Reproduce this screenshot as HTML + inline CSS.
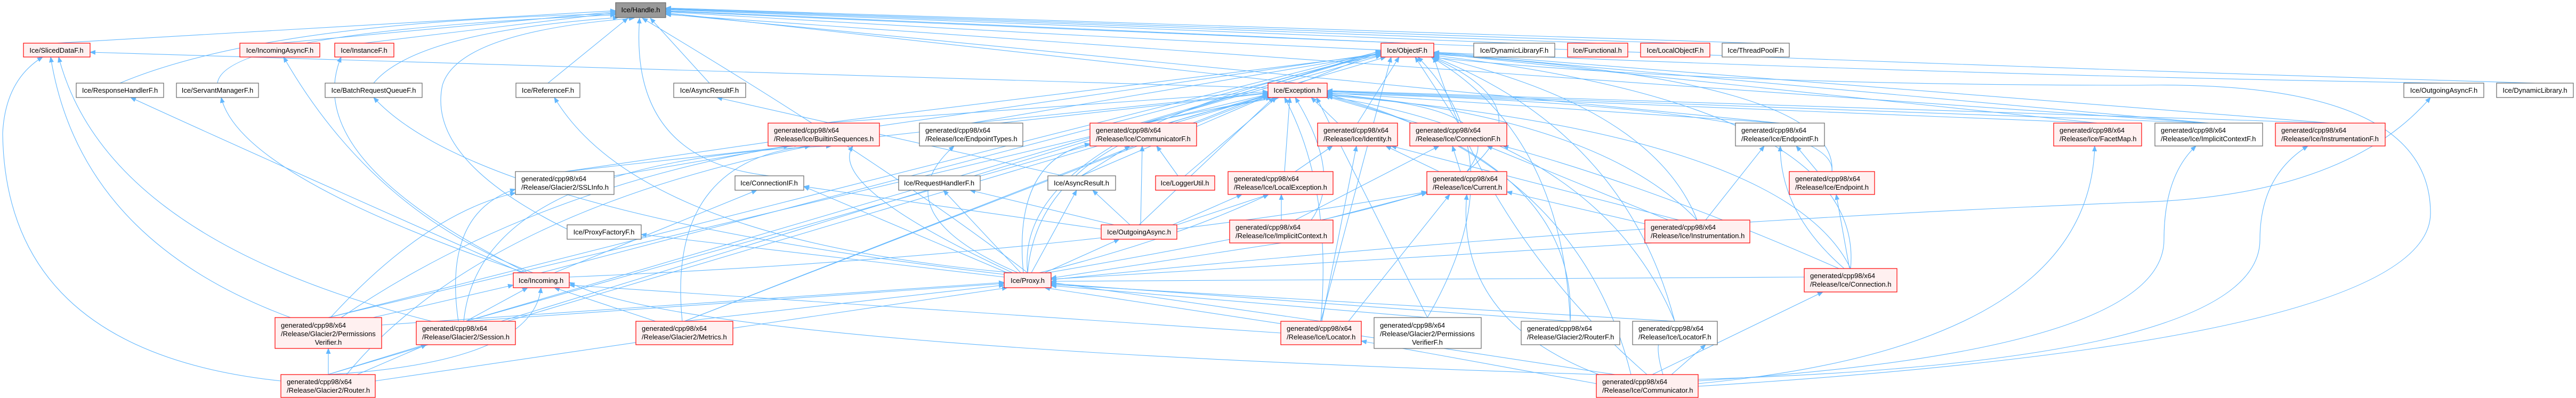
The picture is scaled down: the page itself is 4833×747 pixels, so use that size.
<!DOCTYPE html>
<html><head><meta charset="utf-8"><style>
html,body{margin:0;padding:0;background:#fff;}
svg{display:block;}
text{font-family:"Liberation Sans",sans-serif;font-size:13px;fill:#000;}
.r{fill:#fff0f0;stroke:#ff0000;stroke-width:1.2;}
.g{fill:#fff;stroke:#666;stroke-width:1.2;}
.e{stroke:#63b8ff;stroke-width:1.1;fill:none;marker-end:url(#a);}
</style></head><body>
<svg width="4833" height="747" viewBox="0 0 4833 747" xmlns="http://www.w3.org/2000/svg">
<defs><marker id="a" markerWidth="11" markerHeight="9" refX="10" refY="4.5" orient="auto" markerUnits="userSpaceOnUse"><path d="M0,0 L11,4.5 L0,9 z" fill="#63b8ff"/></marker></defs>
<g>
<!-- to Handle -->
<line class="e" x1="106" y1="81" x2="1155" y2="20"/>
<line class="e" x1="525" y1="81" x2="1155" y2="22"/>
<line class="e" x1="683" y1="81" x2="1155" y2="24"/>
<path class="e" d="M225,156 Q500,40 1155,26"/>
<path class="e" d="M408,156 Q420,60 1155,28"/>
<path class="e" d="M701,156 Q780,60 1160,33"/>
<line class="e" x1="1028" y1="156" x2="1178" y2="34"/>
<line class="e" x1="1331" y1="156" x2="1220" y2="34"/>
<path class="e" d="M1443,330 Q1180,300 1200,34"/>
<path class="e" d="M1064,430 Q800,300 830,160 Q860,60 1190,34"/>
<path class="e" d="M1928,512 Q1650,300 1205,34"/>
<line class="e" x1="2434" y1="156" x2="1249" y2="24"/>
<line class="e" x1="2640" y1="81" x2="1249" y2="20"/>
<line class="e" x1="2841" y1="81" x2="1249" y2="18"/>
<line class="e" x1="2997" y1="81" x2="1249" y2="17"/>
<line class="e" x1="3143" y1="81" x2="1249" y2="16"/>
<line class="e" x1="3294" y1="81" x2="1249" y2="15"/>
<path class="e" d="M4585,156 Q3000,130 1249,22"/>
<path class="e" d="M4756,156 Q3200,110 1249,21"/>
<line class="e" x1="3339" y1="231" x2="1249" y2="26"/>
<line class="e" x1="4144" y1="231" x2="1249" y2="27"/>
<!-- to ObjectF -->
<line class="e" x1="2434" y1="156" x2="2600" y2="107"/>
<line class="e" x1="2547" y1="231" x2="2625" y2="107"/>
<line class="e" x1="2736" y1="231" x2="2655" y2="107"/>
<path class="e" d="M2752,322 Q2900,200 2685,107"/>
<line class="e" x1="1060" y1="322" x2="2591" y2="100"/>
<line class="e" x1="1545" y1="231" x2="2591" y2="102"/>
<line class="e" x1="2145" y1="231" x2="2591" y2="104"/>
<line class="e" x1="1822" y1="231" x2="2591" y2="101"/>
<path class="e" d="M1928,512 Q1900,250 2591,103"/>
<line class="e" x1="1015" y1="512" x2="2591" y2="99"/>
<line class="e" x1="874" y1="603" x2="2591" y2="98"/>
<line class="e" x1="1284" y1="603" x2="2591" y2="97"/>
<line class="e" x1="616" y1="596" x2="2591" y2="96"/>
<line class="e" x1="615" y1="703" x2="2591" y2="95"/>
<line class="e" x1="2478" y1="603" x2="2610" y2="107"/>
<path class="e" d="M3090,703 Q2800,450 2690,107"/>
<path class="e" d="M3472,504 Q3500,200 2690,104"/>
<path class="e" d="M3437,322 Q3450,150 2690,102"/>
<line class="e" x1="3935" y1="231" x2="2690" y2="100"/>
<path class="e" d="M3184,413 Q3100,200 2690,106"/>
<line class="e" x1="4144" y1="231" x2="2690" y2="99"/>
<line class="e" x1="4372" y1="231" x2="2690" y2="98"/>
<path class="e" d="M2946,603 Q2930,250 2685,107"/>
<path class="e" d="M3142,603 Q3050,250 2690,107"/>
<path class="e" d="M2678,596 Q2850,300 2660,107"/>
<!-- to Exception -->
<line class="e" x1="1545" y1="231" x2="2379" y2="172"/>
<line class="e" x1="1822" y1="231" x2="2379" y2="174"/>
<line class="e" x1="2145" y1="231" x2="2385" y2="183"/>
<line class="e" x1="2510" y1="231" x2="2460" y2="183"/>
<line class="e" x1="2660" y1="231" x2="2485" y2="180"/>
<line class="e" x1="2410" y1="322" x2="2420" y2="183"/>
<path class="e" d="M2460,413 Q2520,330 2430,183"/>
<path class="e" d="M2752,322 Q2850,200 2490,178"/>
<path class="e" d="M3184,413 Q3000,220 2490,176"/>
<line class="e" x1="3935" y1="231" x2="2490" y2="172"/>
<line class="e" x1="3339" y1="231" x2="2490" y2="174"/>
<path class="e" d="M3437,322 Q3450,200 2490,175"/>
<line class="e" x1="4144" y1="231" x2="2490" y2="171"/>
<line class="e" x1="4372" y1="231" x2="2490" y2="170"/>
<path class="e" d="M2478,603 Q2500,350 2410,183"/>
<path class="e" d="M3060,703 Q2960,300 2490,177"/>
<path class="e" d="M3472,504 Q3350,250 2490,179"/>
<path class="e" d="M2946,603 Q2960,300 2490,180"/>
<path class="e" d="M3142,603 Q3000,260 2490,181"/>
<line class="e" x1="2678" y1="596" x2="2470" y2="183"/>
<line class="e" x1="1284" y1="603" x2="2379" y2="176"/>
<line class="e" x1="874" y1="603" x2="2379" y2="178"/>
<line class="e" x1="1060" y1="322" x2="2379" y2="175"/>
<line class="e" x1="616" y1="596" x2="2379" y2="177"/>
<line class="e" x1="615" y1="703" x2="2379" y2="179"/>
<line class="e" x1="2223" y1="330" x2="2395" y2="183"/>
<line class="e" x1="2137" y1="422" x2="2390" y2="183"/>
<path class="e" d="M1928,512 Q1950,250 2400,183"/>
<line class="e" x1="2029" y1="330" x2="2379" y2="180"/>
<line class="e" x1="2379" y1="165" x2="169" y2="98"/>
<!-- to Proxy -->
<line class="e" x1="874" y1="603" x2="1884" y2="532"/>
<line class="e" x1="1284" y1="603" x2="1884" y2="535"/>
<line class="e" x1="716" y1="610" x2="1884" y2="530"/>
<line class="e" x1="704" y1="715" x2="1890" y2="540"/>
<line class="e" x1="2478" y1="603" x2="1972" y2="530"/>
<line class="e" x1="3030" y1="703" x2="1960" y2="540"/>
<line class="e" x1="3385" y1="520" x2="1972" y2="528"/>
<line class="e" x1="2946" y1="603" x2="1972" y2="532"/>
<line class="e" x1="3142" y1="603" x2="1972" y2="534"/>
<line class="e" x1="2678" y1="596" x2="1972" y2="536"/>
<line class="e" x1="3100" y1="456" x2="1972" y2="524"/>
<line class="e" x1="2404" y1="456" x2="1972" y2="522"/>
<!-- from Proxy -->
<line class="e" x1="1915" y1="512" x2="1770" y2="357"/>
<line class="e" x1="1935" y1="512" x2="2020" y2="357"/>
<line class="e" x1="1960" y1="512" x2="2100" y2="449"/>
<path class="e" d="M1920,512 Q1900,300 2045,270"/>
<path class="e" d="M1950,512 Q2200,450 2380,365"/>
<line class="e" x1="1884" y1="520" x2="1203" y2="440"/>
<path class="e" d="M1900,512 Q1200,450 1040,183"/>
<path class="e" d="M1965,512 Q2500,420 2677,360"/>
<path class="e" d="M1884,515 Q900,400 701,183"/>
<path class="e" d="M1972,525 Q3000,420 4000,380 Q4400,370 4560,183"/>
<line class="e" x1="1890" y1="512" x2="1508" y2="350"/>
<path class="e" d="M1910,512 Q1650,400 1790,274"/>
<path class="e" d="M1900,512 Q1550,350 1600,274"/>
<!-- Incoming -->
<line class="e" x1="874" y1="603" x2="990" y2="540"/>
<line class="e" x1="700" y1="596" x2="963" y2="535"/>
<path class="e" d="M615,703 Q1000,680 1015,540"/>
<line class="e" x1="1230" y1="603" x2="1040" y2="540"/>
<path class="e" d="M3000,703 Q1300,650 1068,530"/>
<line class="e" x1="2403" y1="625" x2="1068" y2="535"/>
<path class="e" d="M1000,512 Q700,400 532,107"/>
<path class="e" d="M990,512 Q560,300 640,107"/>
<path class="e" d="M980,512 Q500,300 245,183"/>
<path class="e" d="M985,512 Q450,330 415,183"/>
<line class="e" x1="1040" y1="512" x2="1420" y2="357"/>
<path class="e" d="M1068,520 Q2000,480 2677,360"/>
<!-- SlicedDataF -->
<path class="e" d="M545,596 Q150,450 95,107"/>
<path class="e" d="M810,603 Q200,450 110,107"/>
<path class="e" d="M527,715 Q10,660 5,250 Q10,150 80,107"/>
<!-- SSLInfo / Builtin -->
<path class="e" d="M860,603 Q830,400 967,355"/>
<path class="e" d="M620,596 Q800,400 967,362"/>
<path class="e" d="M870,603 Q900,300 1560,274"/>
<path class="e" d="M1280,603 Q1250,300 1520,274"/>
<line class="e" x1="1152" y1="330" x2="1480" y2="274"/>
<path class="e" d="M640,596 Q1000,350 1500,270"/>
<path class="e" d="M650,703 Q900,400 1520,274"/>
<!-- misc mid -->
<line class="e" x1="2029" y1="330" x2="2120" y2="274"/>
<line class="e" x1="2210" y1="330" x2="2170" y2="274"/>
<line class="e" x1="2140" y1="422" x2="2143" y2="274"/>
<line class="e" x1="2120" y1="422" x2="2050" y2="357"/>
<line class="e" x1="1995" y1="330" x2="1345" y2="183"/>
<line class="e" x1="2090" y1="422" x2="1820" y2="357"/>
<line class="e" x1="2200" y1="422" x2="2330" y2="365"/>
<line class="e" x1="2404" y1="413" x2="2404" y2="365"/>
<line class="e" x1="2208" y1="422" x2="2380" y2="365"/>
<line class="e" x1="2066" y1="430" x2="1508" y2="350"/>
<line class="e" x1="2430" y1="322" x2="2500" y2="274"/>
<line class="e" x1="2700" y1="322" x2="2600" y2="274"/>
<line class="e" x1="2480" y1="603" x2="2545" y2="274"/>
<line class="e" x1="3150" y1="413" x2="2610" y2="274"/>
<line class="e" x1="2740" y1="322" x2="2725" y2="274"/>
<line class="e" x1="2430" y1="413" x2="2700" y2="274"/>
<line class="e" x1="3130" y1="413" x2="2790" y2="274"/>
<line class="e" x1="2480" y1="413" x2="2677" y2="362"/>
<line class="e" x1="2530" y1="603" x2="2720" y2="365"/>
<path class="e" d="M3000,703 Q2730,600 2752,365"/>
<line class="e" x1="3086" y1="420" x2="2827" y2="360"/>
<line class="e" x1="3410" y1="322" x2="3370" y2="274"/>
<path class="e" d="M3460,504 Q3340,400 3340,274"/>
<line class="e" x1="3200" y1="413" x2="3310" y2="274"/>
<line class="e" x1="3470" y1="504" x2="3445" y2="365"/>
<line class="e" x1="3100" y1="703" x2="3420" y2="548"/>
<path class="e" d="M3450,504 Q3100,350 2820,274"/>
<path class="e" d="M3186,720 Q3920,650 3930,274"/>
<path class="e" d="M3186,715 Q4060,660 4060,450 Q4060,330 4120,274"/>
<path class="e" d="M3186,712 Q4240,680 4240,450 Q4240,330 4330,274"/>
<path class="e" d="M3186,725 Q4560,640 4560,400 Q4560,150 4013,160 Q3200,160 2690,108"/>
<line class="e" x1="2995" y1="720" x2="2554" y2="640"/>
<line class="e" x1="3136" y1="703" x2="3200" y2="647"/>
<line class="e" x1="616" y1="703" x2="616" y2="654"/>
<line class="e" x1="670" y1="703" x2="800" y2="647"/>
<path class="e" d="M3120,703 Q3090,600 3160,647"/>
</g>
<g>
<rect x="1155" y="5" width="94" height="28" fill="#999" stroke="#666" stroke-width="1.2"/><text x="1202" y="23" text-anchor="middle">Ice/Handle.h</text>
<rect class="r" x="44" y="81" width="125" height="26"/><text x="106" y="99" text-anchor="middle">Ice/SlicedDataF.h</text>
<rect class="r" x="450" y="81" width="150" height="26"/><text x="525" y="99" text-anchor="middle">Ice/IncomingAsyncF.h</text>
<rect class="r" x="628" y="81" width="111" height="26"/><text x="683" y="99" text-anchor="middle">Ice/InstanceF.h</text>
<rect class="r" x="2591" y="81" width="99" height="26"/><text x="2640" y="99" text-anchor="middle">Ice/ObjectF.h</text>
<rect class="g" x="2765" y="81" width="152" height="26"/><text x="2841" y="99" text-anchor="middle">Ice/DynamicLibraryF.h</text>
<rect class="r" x="2941" y="81" width="113" height="26"/><text x="2997" y="99" text-anchor="middle">Ice/Functional.h</text>
<rect class="r" x="3078" y="81" width="130" height="26"/><text x="3143" y="99" text-anchor="middle">Ice/LocalObjectF.h</text>
<rect class="g" x="3231" y="81" width="126" height="26"/><text x="3294" y="99" text-anchor="middle">Ice/ThreadPoolF.h</text>
<rect class="g" x="143" y="156" width="164" height="27"/><text x="225" y="174" text-anchor="middle">Ice/ResponseHandlerF.h</text>
<rect class="g" x="331" y="156" width="154" height="27"/><text x="408" y="174" text-anchor="middle">Ice/ServantManagerF.h</text>
<rect class="g" x="610" y="156" width="182" height="27"/><text x="701" y="174" text-anchor="middle">Ice/BatchRequestQueueF.h</text>
<rect class="g" x="968" y="156" width="120" height="27"/><text x="1028" y="174" text-anchor="middle">Ice/ReferenceF.h</text>
<rect class="g" x="1264" y="156" width="135" height="27"/><text x="1331" y="174" text-anchor="middle">Ice/AsyncResultF.h</text>
<rect class="r" x="2379" y="156" width="111" height="27"/><text x="2434" y="174" text-anchor="middle">Ice/Exception.h</text>
<rect class="g" x="4510" y="156" width="150" height="27"/><text x="4585" y="174" text-anchor="middle">Ice/OutgoingAsyncF.h</text>
<rect class="g" x="4684" y="156" width="144" height="27"/><text x="4756" y="174" text-anchor="middle">Ice/DynamicLibrary.h</text>

<rect class="r" x="1441" y="231" width="209" height="43"/><text x="1452" y="249">generated/cpp98/x64</text><text x="1452" y="265">/Release/Ice/BuiltinSequences.h</text>
<rect class="g" x="1725" y="231" width="194" height="43"/><text x="1736" y="249">generated/cpp98/x64</text><text x="1736" y="265">/Release/Ice/EndpointTypes.h</text>
<rect class="r" x="2045" y="231" width="200" height="43"/><text x="2056" y="249">generated/cpp98/x64</text><text x="2056" y="265">/Release/Ice/CommunicatorF.h</text>
<rect class="r" x="2472" y="231" width="150" height="43"/><text x="2483" y="249">generated/cpp98/x64</text><text x="2483" y="265">/Release/Ice/Identity.h</text>
<rect class="r" x="2645" y="231" width="182" height="43"/><text x="2656" y="249">generated/cpp98/x64</text><text x="2656" y="265">/Release/Ice/ConnectionF.h</text>
<rect class="g" x="3256" y="231" width="167" height="43"/><text x="3267" y="249">generated/cpp98/x64</text><text x="3267" y="265">/Release/Ice/EndpointF.h</text>
<rect class="r" x="3853" y="231" width="165" height="43"/><text x="3864" y="249">generated/cpp98/x64</text><text x="3864" y="265">/Release/Ice/FacetMap.h</text>
<rect class="g" x="4043" y="231" width="202" height="43"/><text x="4054" y="249">generated/cpp98/x64</text><text x="4054" y="265">/Release/Ice/ImplicitContextF.h</text>
<rect class="r" x="4269" y="231" width="206" height="43"/><text x="4280" y="249">generated/cpp98/x64</text><text x="4280" y="265">/Release/Ice/InstrumentationF.h</text>

<rect class="g" x="967" y="322" width="185" height="43"/><text x="978" y="340">generated/cpp98/x64</text><text x="978" y="356">/Release/Glacier2/SSLInfo.h</text>
<rect class="g" x="1379" y="330" width="129" height="27"/><text x="1443" y="348" text-anchor="middle">Ice/ConnectionIF.h</text>
<rect class="g" x="1686" y="330" width="153" height="27"/><text x="1762" y="348" text-anchor="middle">Ice/RequestHandlerF.h</text>
<rect class="g" x="1966" y="330" width="127" height="27"/><text x="2029" y="348" text-anchor="middle">Ice/AsyncResult.h</text>
<rect class="r" x="2168" y="330" width="111" height="27"/><text x="2223" y="348" text-anchor="middle">Ice/LoggerUtil.h</text>
<rect class="r" x="2304" y="322" width="197" height="43"/><text x="2315" y="340">generated/cpp98/x64</text><text x="2315" y="356">/Release/Ice/LocalException.h</text>
<rect class="r" x="2677" y="322" width="150" height="43"/><text x="2688" y="340">generated/cpp98/x64</text><text x="2688" y="356">/Release/Ice/Current.h</text>
<rect class="r" x="3357" y="322" width="160" height="43"/><text x="3368" y="340">generated/cpp98/x64</text><text x="3368" y="356">/Release/Ice/Endpoint.h</text>

<rect class="g" x="1064" y="422" width="139" height="27"/><text x="1133" y="440" text-anchor="middle">Ice/ProxyFactoryF.h</text>
<rect class="r" x="2066" y="422" width="142" height="27"/><text x="2137" y="440" text-anchor="middle">Ice/OutgoingAsync.h</text>
<rect class="r" x="2307" y="413" width="194" height="43"/><text x="2318" y="431">generated/cpp98/x64</text><text x="2318" y="447">/Release/Ice/ImplicitContext.h</text>
<rect class="r" x="3086" y="413" width="197" height="43"/><text x="3097" y="431">generated/cpp98/x64</text><text x="3097" y="447">/Release/Ice/Instrumentation.h</text>

<rect class="r" x="963" y="512" width="105" height="28"/><text x="1015" y="531" text-anchor="middle">Ice/Incoming.h</text>
<rect class="r" x="1884" y="512" width="88" height="28"/><text x="1928" y="531" text-anchor="middle">Ice/Proxy.h</text>
<rect class="r" x="3385" y="504" width="174" height="44"/><text x="3396" y="522">generated/cpp98/x64</text><text x="3396" y="538">/Release/Ice/Connection.h</text>

<rect class="r" x="516" y="596" width="200" height="58"/><text x="527" y="615">generated/cpp98/x64</text><text x="527" y="631">/Release/Glacier2/Permissions</text><text x="616" y="647" text-anchor="middle">Verifier.h</text>
<rect class="r" x="781" y="603" width="186" height="44"/><text x="792" y="621">generated/cpp98/x64</text><text x="792" y="637">/Release/Glacier2/Session.h</text>
<rect class="r" x="1193" y="603" width="182" height="44"/><text x="1204" y="621">generated/cpp98/x64</text><text x="1204" y="637">/Release/Glacier2/Metrics.h</text>
<rect class="r" x="2403" y="603" width="151" height="44"/><text x="2414" y="621">generated/cpp98/x64</text><text x="2414" y="637">/Release/Ice/Locator.h</text>
<rect class="g" x="2578" y="596" width="201" height="58"/><text x="2589" y="615">generated/cpp98/x64</text><text x="2589" y="631">/Release/Glacier2/Permissions</text><text x="2678" y="647" text-anchor="middle">VerifierF.h</text>
<rect class="g" x="2854" y="603" width="185" height="44"/><text x="2865" y="621">generated/cpp98/x64</text><text x="2865" y="637">/Release/Glacier2/RouterF.h</text>
<rect class="g" x="3063" y="603" width="159" height="44"/><text x="3074" y="621">generated/cpp98/x64</text><text x="3074" y="637">/Release/Ice/LocatorF.h</text>

<rect class="r" x="527" y="703" width="177" height="43"/><text x="538" y="721">generated/cpp98/x64</text><text x="538" y="737">/Release/Glacier2/Router.h</text>
<rect class="r" x="2995" y="703" width="191" height="43"/><text x="3006" y="721">generated/cpp98/x64</text><text x="3006" y="737">/Release/Ice/Communicator.h</text>
</g>
</svg>
</body></html>
